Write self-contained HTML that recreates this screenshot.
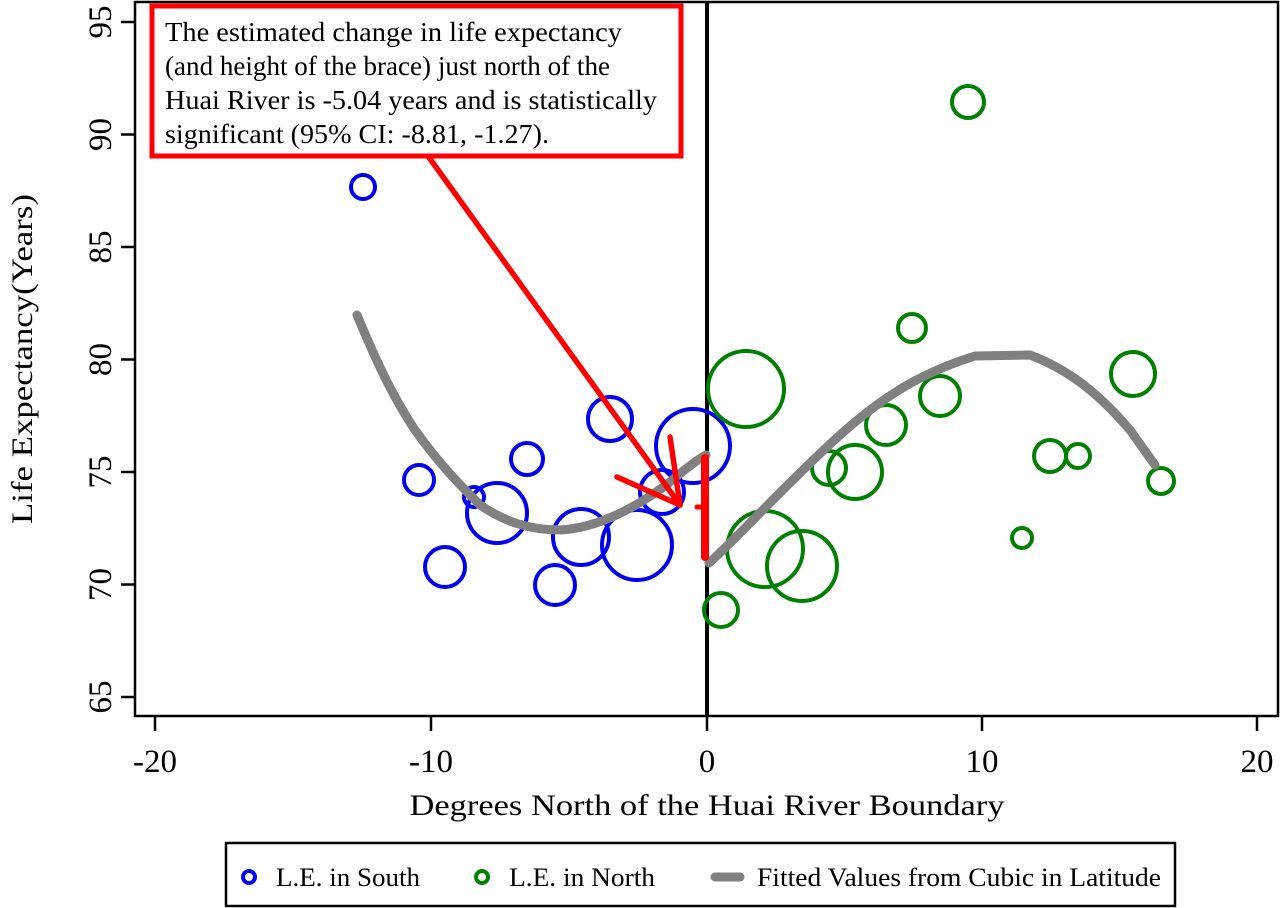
<!DOCTYPE html>
<html><head><meta charset="utf-8"><style>body{margin:0;background:#fff}svg{display:block}</style></head><body>
<svg width="1280" height="908" xmlns="http://www.w3.org/2000/svg" font-family="Liberation Serif, serif">
<rect x="135" y="2" width="1143" height="714" fill="none" stroke="#000" stroke-width="2.5"/>
<g stroke="#000" stroke-width="2.5">
<line x1="121" y1="22" x2="135" y2="22"/><line x1="121" y1="134.5" x2="135" y2="134.5"/><line x1="121" y1="247" x2="135" y2="247"/><line x1="121" y1="359.5" x2="135" y2="359.5"/><line x1="121" y1="472" x2="135" y2="472"/><line x1="121" y1="584.5" x2="135" y2="584.5"/><line x1="121" y1="697" x2="135" y2="697"/>
<line x1="155" y1="717" x2="155" y2="731"/><line x1="431" y1="717" x2="431" y2="731"/><line x1="707" y1="717" x2="707" y2="731"/><line x1="982" y1="717" x2="982" y2="731"/><line x1="1257" y1="717" x2="1257" y2="731"/>
</g>
<g font-size="33" text-anchor="middle" fill="#000">
<text transform="translate(111,22) rotate(-90)">95</text>
<text transform="translate(111,134.5) rotate(-90)">90</text>
<text transform="translate(111,247) rotate(-90)">85</text>
<text transform="translate(111,359.5) rotate(-90)">80</text>
<text transform="translate(111,472) rotate(-90)">75</text>
<text transform="translate(111,584.5) rotate(-90)">70</text>
<text transform="translate(111,697) rotate(-90)">65</text>
<text x="155" y="772">-20</text><text x="431" y="772">-10</text><text x="707" y="772">0</text><text x="982" y="772">10</text><text x="1257" y="772">20</text>
</g>
<g font-size="30" text-anchor="middle" fill="#000">
<text x="707" y="815" textLength="595" lengthAdjust="spacingAndGlyphs">Degrees North of the Huai River Boundary</text>
<text transform="translate(32,359) rotate(-90)" textLength="330" lengthAdjust="spacingAndGlyphs">Life Expectancy(Years)</text>
</g>
<line x1="707" y1="2" x2="707" y2="716" stroke="#000" stroke-width="4"/>
<g fill="none" stroke="#0000ee" stroke-width="4">
<circle cx="363" cy="187" r="12"/><circle cx="419" cy="480" r="15"/><circle cx="474" cy="497" r="10"/><circle cx="497" cy="513" r="30"/><circle cx="445" cy="567" r="20"/><circle cx="527" cy="459" r="16"/><circle cx="555" cy="585" r="20"/><circle cx="581" cy="537" r="28"/><circle cx="610" cy="419" r="22"/><circle cx="637" cy="545" r="35"/><circle cx="662" cy="492" r="22"/><circle cx="693" cy="446" r="37"/>
</g>
<g fill="none" stroke="#008000" stroke-width="4">
<circle cx="721" cy="610" r="17"/><circle cx="746" cy="389" r="38"/><circle cx="765" cy="549" r="38"/><circle cx="802" cy="566" r="35"/><circle cx="829" cy="468" r="17"/><circle cx="855" cy="472" r="27"/><circle cx="886" cy="425" r="20"/><circle cx="912" cy="328" r="14"/><circle cx="940" cy="396" r="20"/><circle cx="968" cy="102" r="16"/><circle cx="1022" cy="538" r="10"/><circle cx="1050" cy="456" r="16"/><circle cx="1078" cy="456" r="12"/><circle cx="1133" cy="374" r="22"/><circle cx="1161" cy="481" r="13"/>
</g>
<g fill="none" stroke="#808080" stroke-width="9" stroke-linecap="round" stroke-linejoin="round">
<path d="M357,315 C380,370 395,400 415,430 C440,465 460,485 480,505 C505,522 530,530 560,530 C600,528 640,505 670,482 C690,465 700,458 706,455"/>
<path d="M709,563 C740,535 790,480 840,435 C890,390 930,370 975,356 L1030,355 C1070,370 1100,395 1130,430 L1155,465"/>
</g>
<g stroke="#ff0000" fill="none" stroke-linecap="round">
<line x1="420" y1="145" x2="680" y2="505" stroke-width="5.5"/>
<line x1="617" y1="477" x2="680" y2="505" stroke-width="5.5"/>
<line x1="670" y1="437" x2="680" y2="505" stroke-width="5.5"/>
<line x1="705" y1="458" x2="705" y2="557" stroke-width="8"/>
<line x1="697" y1="507" x2="705" y2="507" stroke-width="5"/>
</g>
<rect x="152" y="6" width="529" height="150" fill="#fff" stroke="#ff0000" stroke-width="5"/>
<g font-size="27" fill="#000">
<text x="165" y="41" textLength="457" lengthAdjust="spacingAndGlyphs">The estimated change in life expectancy</text>
<text x="165" y="75" textLength="445" lengthAdjust="spacingAndGlyphs">(and height of the brace) just north of the</text>
<text x="165" y="109" textLength="492" lengthAdjust="spacingAndGlyphs">Huai River is -5.04 years and is statistically</text>
<text x="165" y="143" textLength="384" lengthAdjust="spacingAndGlyphs">significant (95% CI: -8.81, -1.27).</text>
</g>
<rect x="226" y="843" width="949" height="63" fill="none" stroke="#000" stroke-width="2.5"/>
<circle cx="249" cy="877" r="6" fill="none" stroke="#0000ee" stroke-width="4"/>
<circle cx="482" cy="877" r="6" fill="none" stroke="#008000" stroke-width="4"/>
<line x1="715" y1="877" x2="740" y2="877" stroke="#808080" stroke-width="9" stroke-linecap="round"/>
<g font-size="26" fill="#000">
<text x="276" y="886" textLength="144" lengthAdjust="spacingAndGlyphs">L.E. in South</text>
<text x="509" y="886" textLength="146" lengthAdjust="spacingAndGlyphs">L.E. in North</text>
<text x="757" y="886" textLength="404" lengthAdjust="spacingAndGlyphs">Fitted Values from Cubic in Latitude</text>
</g>
</svg>
</body></html>
